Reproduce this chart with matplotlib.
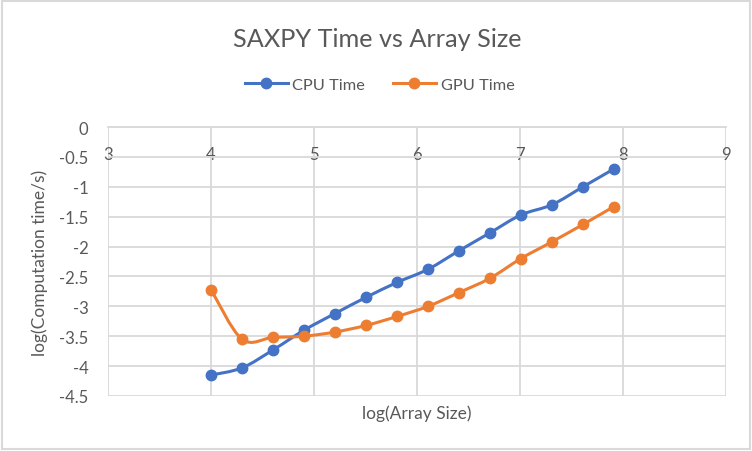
import matplotlib.pyplot as plt
from matplotlib.path import Path
from matplotlib.patches import PathPatch, Rectangle
from matplotlib.lines import Line2D

# data
array_size_log = [4.0, 4.301, 4.602, 4.903, 5.204, 5.505, 5.806,
                  6.107, 6.408, 6.709, 7.01, 7.311, 7.612, 7.913]
cpu_time_log = [-4.15, -4.03, -3.73, -3.40, -3.12, -2.85, -2.60,
                -2.38, -2.07, -1.77, -1.47, -1.30, -1.00, -0.70]
gpu_time_log = [-2.72, -3.55, -3.52, -3.50, -3.43, -3.32, -3.17,
                -3.00, -2.77, -2.53, -2.20, -1.92, -1.63, -1.33]

x_ticks = [3, 4, 5, 6, 7, 8, 9]
y_ticks = [0, -0.5, -1, -1.5, -2, -2.5, -3, -3.5, -4, -4.5]

BLUE = "#4472C4"
ORANGE = "#ED7D31"
TEXT = "#595959"
GRID = "#D9D9D9"

plt.rcParams["font.family"] = ["Lato", "DejaVu Sans"]


def smooth_path(xs, ys):
    # Excel-like smoothed line: cubic Bezier through every point
    verts = [(xs[0], ys[0])]
    codes = [Path.MOVETO]
    n = len(xs)
    for i in range(n - 1):
        x0, y0 = (xs[i - 1], ys[i - 1]) if i > 0 else (xs[i], ys[i])
        x1, y1 = xs[i], ys[i]
        x2, y2 = xs[i + 1], ys[i + 1]
        x3, y3 = (xs[i + 2], ys[i + 2]) if i + 2 < n else (x2, y2)
        c1 = (x1 + (x2 - x0) / 6, y1 + (y2 - y0) / 6)
        c2 = (x2 - (x3 - x1) / 6, y2 - (y3 - y1) / 6)
        verts += [c1, c2, (x2, y2)]
        codes += [Path.CURVE4] * 3
    return Path(verts, codes)


fig = plt.figure(figsize=(7.52, 4.52), dpi=100)
ax = fig.add_axes([0.1436, 0.1217, 0.8218, 0.5951])

for ys, color in [(cpu_time_log, BLUE), (gpu_time_log, ORANGE)]:
    ax.add_patch(PathPatch(smooth_path(array_size_log, ys), facecolor="none",
                           edgecolor=color, linewidth=2.2, zorder=3,
                           capstyle="round", joinstyle="round"))
    ax.plot(array_size_log, ys, linestyle="none", marker="o", markersize=7.5,
            color=color, zorder=4)

ax.set_xlim(3, 9)
ax.set_ylim(-4.5, 0)
ax.set_xticks(x_ticks)
ax.set_yticks(y_ticks)
ax.set_yticklabels([f"{v:g}" for v in y_ticks])
ax.grid(True, color=GRID, linewidth=1.3)
ax.set_axisbelow(True)

for side in ["left", "right", "bottom"]:
    ax.spines[side].set_visible(False)
ax.spines["top"].set_color(GRID)
ax.spines["top"].set_linewidth(1.3)

ax.xaxis.tick_top()
ax.tick_params(axis="x", length=0, pad=-25, labelsize=12, labelcolor=TEXT)
ax.tick_params(axis="y", length=0, pad=14, labelsize=12, labelcolor=TEXT)

ax.set_xlabel("log(Array Size)", fontsize=12.5, color=TEXT, labelpad=6)
ax.xaxis.set_label_position("bottom")
ax.set_ylabel("log(Computation time/s)", fontsize=12.5, color=TEXT, labelpad=8)

fig.text(0.502, 0.912, "SAXPY Time vs Array Size", ha="center", va="center",
         fontsize=18.2, color=TEXT)

handles = [
    Line2D([0], [0], color=BLUE, linewidth=2.2, marker="o", markersize=7.5),
    Line2D([0], [0], color=ORANGE, linewidth=2.2, marker="o", markersize=7.5),
]
fig.legend(handles, ["CPU Time", "GPU Time"], loc="center",
           bbox_to_anchor=(0.505, 0.81), ncol=2, frameon=False,
           fontsize=11.8, labelcolor=TEXT, handlelength=2.6,
           handletextpad=0.3, columnspacing=1.7)

fig.patches.append(Rectangle((0.003, 0.004), 0.994, 0.992,
                             transform=fig.transFigure, fill=False,
                             edgecolor="#D9D9D9", linewidth=1.5))

fig.savefig("out.png", dpi=100, facecolor="white")
